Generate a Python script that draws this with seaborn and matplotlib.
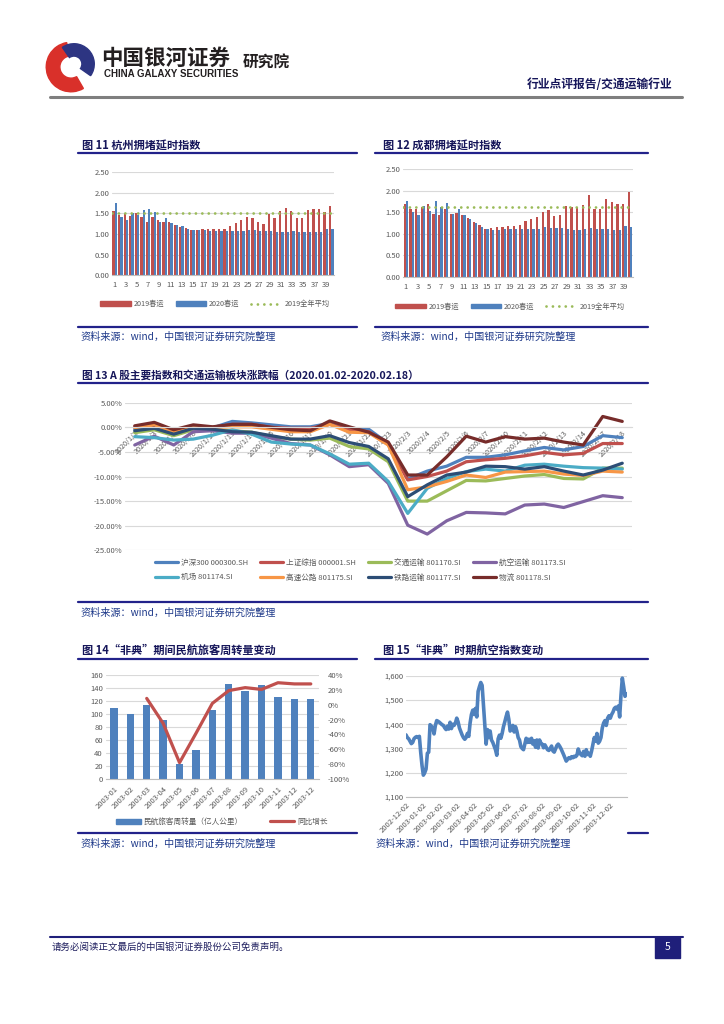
import numpy as np
import pandas as pd
import matplotlib
matplotlib.use('Agg')
import matplotlib.pyplot as plt
from matplotlib.lines import Line2D
from matplotlib.patches import Patch, Wedge, Rectangle
import seaborn as sns

sns.set_theme(style='white')
plt.rcParams['font.family'] = ['Noto Sans CJK SC', 'DejaVu Sans']
plt.rcParams['axes.unicode_minus'] = False

# ---------------- data ----------------
days = list(range(1, 41))
hz_2019 = [1.55, 1.46, 1.49, 1.44, 1.50, 1.41, 1.30, 1.41, 1.34, 1.29,
           1.29, 1.22, 1.18, 1.14, 1.10, 1.10, 1.13, 1.13, 1.12, 1.13,
           1.13, 1.19, 1.27, 1.34, 1.42, 1.40, 1.29, 1.25, 1.49, 1.40,
           1.57, 1.63, 1.56, 1.40, 1.40, 1.59, 1.62, 1.60, 1.53, 1.67]
hz_2020 = [1.76, 1.41, 1.34, 1.52, 1.46, 1.59, 1.61, 1.53, 1.29, 1.40,
           1.28, 1.22, 1.20, 1.13, 1.10, 1.10, 1.10, 1.08, 1.08, 1.07,
           1.08, 1.07, 1.08, 1.08, 1.10, 1.10, 1.08, 1.08, 1.08, 1.06,
           1.06, 1.06, 1.07, 1.06, 1.06, 1.06, 1.06, 1.05, 1.12, 1.12]
hz_avg = 1.50

cd_2019 = [1.70, 1.59, 1.58, 1.63, 1.70, 1.46, 1.44, 1.57, 1.46, 1.48,
           1.44, 1.36, 1.28, 1.21, 1.12, 1.13, 1.15, 1.17, 1.19, 1.19,
           1.21, 1.31, 1.35, 1.39, 1.52, 1.56, 1.41, 1.45, 1.64, 1.62,
           1.63, 1.66, 1.90, 1.59, 1.59, 1.80, 1.75, 1.70, 1.69, 1.98]
cd_2020 = [1.76, 1.52, 1.44, 1.65, 1.53, 1.77, 1.63, 1.71, 1.46, 1.58,
           1.43, 1.34, 1.26, 1.17, 1.11, 1.08, 1.09, 1.11, 1.11, 1.11,
           1.11, 1.11, 1.11, 1.12, 1.15, 1.13, 1.13, 1.13, 1.11, 1.10,
           1.09, 1.11, 1.13, 1.12, 1.12, 1.12, 1.10, 1.10, 1.18, 1.16]
cd_avg = 1.62

dates13 = ['2020/1/2', '2020/1/3', '2020/1/6', '2020/1/8', '2020/1/10', '2020/1/13',
           '2020/1/14', '2020/1/15', '2020/1/16', '2020/1/17', '2020/1/20', '2020/1/21',
           '2020/1/22', '2020/1/23', '2020/2/3', '2020/2/4', '2020/2/5', '2020/2/6',
           '2020/2/7', '2020/2/10', '2020/2/11', '2020/2/12', '2020/2/13', '2020/2/14',
           '2020/2/17', '2020/2/18']
names13 = ['沪深300 000300.SH', '上证综指 000001.SH', '交通运输 801170.SI', '航空运输 801173.SI',
           '机场 801174.SI', '高速公路 801175.SI', '铁路运输 801177.SI', '物流 801178.SI']
hs300 = [-0.4, -0.1, -1.2, -0.2, -0.1, 1.2, 0.9, 0.5, 0.1, 0.1, 0.8, -0.2, -0.4, -3.3,
         -10.5, -8.9, -7.9, -6.1, -6.1, -5.6, -4.8, -4.1, -4.6, -3.9, -1.7, -2.1]
szzz = [0.1, 0.3, -0.9, 0.0, 0.0, 0.6, 0.6, 0.0, -0.2, -0.2, 0.6, -0.5, -0.9, -3.5,
        -10.7, -10.0, -8.9, -7.0, -6.6, -6.3, -5.8, -5.1, -5.6, -5.3, -3.3, -3.3]
jtys = [-1.1, -0.5, -1.7, -0.5, -0.5, -0.7, -1.0, -1.9, -2.4, -2.6, -2.2, -3.9, -4.4, -7.0,
        -15.0, -15.0, -12.9, -10.8, -10.9, -10.4, -9.9, -9.6, -10.4, -10.5, -8.3, -8.3]
hkys = [-3.6, -1.8, -3.6, -0.9, -0.7, -1.2, -1.2, -2.2, -3.3, -3.6, -5.6, -8.0, -7.6, -11.4,
        -19.9, -21.7, -19.0, -17.3, -17.4, -17.6, -15.8, -15.6, -16.3, -15.1, -13.9, -14.3]
jc = [-1.9, -2.1, -2.6, -2.4, -1.6, -0.5, -1.4, -3.0, -3.4, -3.6, -5.4, -7.5, -7.3, -11.0,
      -17.5, -12.4, -10.4, -9.0, -8.5, -8.9, -7.7, -7.5, -7.9, -8.2, -8.3, -8.5]
gsgl = [-0.1, 0.5, -1.0, 0.0, 0.0, 0.1, 0.1, -0.4, -0.9, -0.9, 0.6, -1.0, -1.1, -3.6,
        -12.7, -12.1, -11.0, -9.7, -10.2, -9.1, -9.0, -8.9, -9.5, -9.8, -8.9, -9.1]
tlys = [-0.7, -0.2, -1.4, -0.2, -0.4, -0.9, -1.0, -1.7, -2.4, -2.4, -1.7, -3.1, -3.9, -6.4,
        -14.1, -11.7, -9.7, -9.1, -7.9, -8.0, -8.5, -8.0, -8.9, -9.7, -8.7, -7.3]
wl = [0.3, 1.0, -0.5, 0.5, 0.1, 0.6, 0.6, 0.0, -0.5, -0.7, 1.3, 0.1, -1.0, -3.0,
      -9.7, -9.7, -6.0, -1.8, -3.0, -1.9, -2.4, -2.2, -3.0, -3.6, 2.2, 1.2]

months14 = ['2003-01', '2003-02', '2003-03', '2003-04', '2003-05', '2003-06', '2003-07',
            '2003-08', '2003-09', '2003-10', '2003-11', '2003-12', '2003-12']
rpk = [110, 100, 114, 91, 23, 45, 106, 146, 135, 144, 126, 123, 123]
yoy = [np.nan, np.nan, 8.5, -25, -78, -38.6, 1.8, 19, 23, 20.6, 29.6, 28, 28]

air_idx = [1356, 1345, 1340, 1330, 1320, 1325, 1340, 1346, 1349, 1345, 1350, 1285,
           1230, 1190, 1200, 1215, 1280, 1285, 1398, 1392, 1385, 1360, 1395, 1415,
           1412, 1408, 1403, 1398, 1395, 1385, 1378, 1392, 1380, 1408, 1382, 1400,
           1395, 1405, 1425, 1410, 1385, 1370, 1356, 1345, 1338, 1345, 1362, 1350,
           1405, 1440, 1458, 1440, 1465, 1430, 1535, 1555, 1572, 1560, 1480, 1400,
           1318, 1378, 1345, 1372, 1335, 1325, 1310, 1295, 1272, 1340, 1355, 1342,
           1362, 1390, 1410, 1432, 1450, 1420, 1372, 1380, 1395, 1368, 1390, 1372,
           1345, 1335, 1308, 1300, 1295, 1318, 1342, 1325, 1338, 1325, 1342, 1318,
           1332, 1305, 1335, 1302, 1335, 1322, 1318, 1303, 1315, 1305, 1295, 1292,
           1300, 1310, 1290, 1285, 1298, 1312, 1318, 1310, 1300, 1288, 1275, 1262,
           1248, 1255, 1262, 1258, 1266, 1262, 1268, 1266, 1272, 1298, 1282, 1275,
           1270, 1288, 1268, 1295, 1275, 1280, 1268, 1290, 1318, 1345, 1330, 1362,
           1322, 1330, 1345, 1385, 1405, 1415, 1395, 1425, 1435, 1425, 1440, 1450,
           1465, 1470, 1462, 1475, 1430, 1520, 1590, 1555, 1515, 1525]
months15 = ['2002-12-02', '2003-01-02', '2003-02-02', '2003-03-02', '2003-04-02',
            '2003-05-02', '2003-06-02', '2003-07-02', '2003-08-02', '2003-09-02',
            '2003-10-02', '2003-11-02', '2003-12-02']

# ---------------- styling ----------------
RED, BLUE, GREEN = '#C0504D', '#4F81BD', '#9BBB59'
PAL13 = ['#4F81BD', '#C0504D', '#9BBB59', '#8064A2', '#4BACC6', '#F79646', '#2C4D75', '#772C2A']
TXT = '#595959'
GRID = '#D9D9D9'
TITLE_C = '#16165A'
LINE_C = '#22228A'
SRC_C = '#1F3A8A'

W, H = 724, 1024
fig = plt.figure(figsize=(W / 100, H / 100), dpi=100)
fig.patch.set_facecolor('white')


def add_ax(x0, y0, x1, y1):
    return fig.add_axes([x0 / W, 1 - y1 / H, (x1 - x0) / W, (y1 - y0) / H])


def hline(x0, x1, y, color=LINE_C, lw=1.6):
    fig.add_artist(Line2D([x0 / W, x1 / W], [1 - y / H, 1 - y / H], color=color, lw=lw))


def ftext(x, y, s, **kw):
    fig.text(x / W, 1 - y / H, s, **kw)


def style_ax(ax):
    for s in ['top', 'right', 'left']:
        ax.spines[s].set_visible(False)
    ax.spines['bottom'].set_color('#BFBFBF')
    ax.spines['bottom'].set_linewidth(0.8)
    ax.set_facecolor('none')
    ax.grid(axis='y', color=GRID, lw=0.8)
    ax.set_axisbelow(True)
    ax.tick_params(length=0, labelsize=5.5, colors=TXT, pad=2)
    ax.set_xlabel('')
    ax.set_ylabel('')


SRC = '资料来源：wind，中国银河证券研究院整理'

# ---------------- header ----------------
lax = add_ax(44, 41, 98, 93)
lax.set_xlim(-1.05, 1.05)
lax.set_ylim(-1.05, 1.05)
lax.set_aspect('equal')
lax.axis('off')
lax.add_patch(Wedge((0, 0), 1.0, 100, 300, width=0.55, color='#D9302A'))
lax.add_patch(Wedge((0.12, 0.12), 0.82, -35, 125, width=0.5, color='#2D3582'))

ftext(101, 58, '中国银河证券', fontsize=15.5, fontweight='bold', color='#231F20', va='center')
ftext(104, 74, 'CHINA GALAXY SECURITIES', fontsize=7, fontweight='bold', color='#231F20',
      va='center', family=['Liberation Sans Narrow', 'Liberation Sans', 'DejaVu Sans'])
ftext(243, 63, '研究院', fontsize=11.3, fontweight='bold', color='#231F20', va='center')
ftext(672, 85, '行业点评报告/交通运输行业', fontsize=8.5, fontweight='bold', color=TITLE_C,
      va='center', ha='right')
hline(50, 682, 97, color='#7F7F7F', lw=2.2)

# ---------------- chart 11 / 12 ----------------
def congestion(ax, v2019, v2020, avg):
    df = pd.DataFrame({'day': days * 2, 'val': v2019 + v2020,
                       'series': ['2019春运'] * 40 + ['2020春运'] * 40})
    sns.barplot(data=df, x='day', y='val', hue='series', palette=[RED, BLUE],
                saturation=1, width=0.82, ax=ax, legend=False, linewidth=0, edgecolor='none')
    ax.axhline(avg, color=GREEN, lw=2.0, ls=(0, (0.01, 2.3)), dash_capstyle='round', zorder=5)
    ax.set_ylim(0, 2.5)
    ax.set_xlim(-0.5, 39.5)
    ax.set_yticks(np.arange(0, 2.51, 0.5))
    ax.set_yticklabels(['%.2f' % v for v in np.arange(0, 2.51, 0.5)])
    ax.set_xticks(range(0, 40, 2))
    ax.set_xticklabels([str(d) for d in days[::2]])
    style_ax(ax)
    ax.tick_params(axis='x', pad=4)


ax11 = add_ax(112, 172.3, 334, 275.3)
congestion(ax11, hz_2019, hz_2020, hz_avg)
ax12 = add_ax(403, 169.3, 633, 277)
congestion(ax12, cd_2019, cd_2020, cd_avg)

leg_handles = [Patch(color=RED), Patch(color=BLUE),
               Line2D([], [], color=GREEN, lw=2.0, ls=(0, (0.01, 2.3)), dash_capstyle='round')]
leg_labels = ['2019春运', '2020春运', '2019全年平均']
for cx, cy in [(215, 304), (510, 306.5)]:
    fig.legend(leg_handles, leg_labels, ncol=3, loc='center', bbox_to_anchor=(cx / W, 1 - cy / H),
               frameon=False, fontsize=5.2, labelcolor=TXT, handlelength=4.2, handleheight=0.6,
               columnspacing=1.6, handletextpad=0.4)

ftext(82, 145, '图 11 杭州拥堵延时指数', fontsize=8, fontweight='bold', color=TITLE_C, va='center')
ftext(383, 145, '图 12 成都拥堵延时指数', fontsize=8, fontweight='bold', color=TITLE_C, va='center')
hline(78, 357, 153)
hline(375, 648, 153)
hline(78, 357, 327)
hline(375, 648, 327)
ftext(80, 337, SRC, fontsize=7.3, color=SRC_C, va='center', style='italic')
ftext(380, 337, SRC, fontsize=7.3, color=SRC_C, va='center', style='italic')

# ---------------- chart 13 ----------------
series13 = [hs300, szzz, jtys, hkys, jc, gsgl, tlys, wl]
df13 = pd.DataFrame({
    'idx': list(range(len(dates13))) * len(names13),
    'val': sum(series13, []),
    'name': [n for n in names13 for _ in dates13],
})
ax13 = add_ax(125, 402.7, 632, 550.3)
sns.lineplot(data=df13, x='idx', y='val', hue='name', hue_order=names13, palette=PAL13,
             lw=2.3, ax=ax13, legend=False, sort=False)
ax13.set_xlim(-0.5, 25.5)
ax13.set_ylim(-25, 5)
ax13.set_yticks(range(-25, 6, 5))
ax13.set_yticklabels(['%.2f%%' % v for v in range(-25, 6, 5)])
style_ax(ax13)
ax13.spines['bottom'].set_position(('data', 0))
ax13.spines['bottom'].set_color(GRID)
ax13.set_xticks(range(len(dates13)))
ax13.set_xticklabels(dates13, rotation=45, ha='right', rotation_mode='anchor', fontsize=5.2)
ax13.tick_params(axis='x', pad=1)

h13 = [Line2D([], [], color=c, lw=2.3) for c in PAL13]
order = [0, 4, 1, 5, 2, 6, 3, 7]
fig.legend([h13[i] for i in order], [names13[i] for i in order], ncol=4, loc='center',
           bbox_to_anchor=(360 / W, 1 - 570 / H), frameon=False, fontsize=5.5, labelcolor=TXT,
           handlelength=3.0, handletextpad=0.4, columnspacing=1.6, labelspacing=0.9)

ftext(82, 375, '图 13 A 股主要指数和交通运输板块涨跌幅（2020.01.02-2020.02.18）', fontsize=7.7,
      fontweight='bold', color=TITLE_C, va='center')
hline(78, 648, 383)
hline(78, 648, 602)
ftext(80, 613, SRC, fontsize=7.3, color=SRC_C, va='center', style='italic')

# ---------------- chart 14 ----------------
ax14 = add_ax(105.7, 675, 319, 779)
df14 = pd.DataFrame({'pos': range(len(months14)), 'rpk': rpk, 'yoy': yoy})
sns.barplot(data=df14, x='pos', y='rpk', color=BLUE, saturation=1, width=0.45, ax=ax14,
            linewidth=0, edgecolor='none')
ax14.set_ylim(0, 160)
ax14.set_yticks(range(0, 161, 20))
style_ax(ax14)
ax14.set_xticks(range(len(months14)))
ax14.set_xticklabels(months14, rotation=45, ha='right', rotation_mode='anchor')
ax14.tick_params(axis='x', pad=4)
ax14b = ax14.twinx()
sns.lineplot(data=df14, x='pos', y='yoy', color=RED, lw=2.3, ax=ax14b)
ax14b.set_ylim(-100, 40)
ax14b.set_yticks(range(-100, 41, 20))
ax14b.set_yticklabels(['%d%%' % v for v in range(-100, 41, 20)])
for s in ax14b.spines.values():
    s.set_visible(False)
ax14b.tick_params(length=0, labelsize=5.5, colors=TXT, pad=6)
ax14b.set_ylabel('')
ax14.set_xlim(-0.5, 12.5)

fig.legend([Patch(color=BLUE), Line2D([], [], color=RED, lw=2.3)],
           ['民航旅客周转量（亿人公里）', '同比增长'], ncol=2, loc='center',
           bbox_to_anchor=(222 / W, 1 - 822 / H), frameon=False, fontsize=5.5, labelcolor=TXT,
           handlelength=3.2, handleheight=0.6, columnspacing=3.5, handletextpad=0.4)

ftext(82, 650, '图 14“非典”期间民航旅客周转量变动', fontsize=8, fontweight='bold',
      color=TITLE_C, va='center')
hline(78, 357, 659)
hline(78, 357, 833)
ftext(80, 844, SRC, fontsize=7.3, color=SRC_C, va='center', style='italic')

# ---------------- chart 15 ----------------
ax15 = add_ax(406, 675.7, 627, 797)
sns.lineplot(x=range(len(air_idx)), y=air_idx, color=BLUE, lw=2.6, ax=ax15)
ax15.set_ylim(1100, 1600)
ax15.set_yticks(range(1100, 1601, 100))
ax15.set_yticklabels(['{:,}'.format(v) for v in range(1100, 1601, 100)])
ax15.set_xlim(0, len(air_idx) - 0.5)
per_month = len(air_idx) / 13.0
ax15.set_xticks([i * per_month for i in range(len(months15))])
ax15.set_xticklabels(months15, rotation=45, ha='right', rotation_mode='anchor')
style_ax(ax15)
ax15.tick_params(axis='x', pad=3)

ftext(383, 650, '图 15“非典”时期航空指数变动', fontsize=8, fontweight='bold',
      color=TITLE_C, va='center')
hline(375, 648, 659)
hline(628, 648, 833)
ftext(375, 844, SRC, fontsize=7.3, color=SRC_C, va='center', style='italic')

# ---------------- footer ----------------
hline(50, 683, 937, color='#1F1F7A', lw=1.5)
ftext(52, 947, '请务必阅读正文最后的中国银河证券股份公司免责声明。', fontsize=6.8,
      color='#1F1F5F', va='center')
fig.add_artist(Rectangle((655 / W, 1 - 958 / H), 25 / W, 21 / H, color='#1F1F7A',
                         transform=fig.transFigure))
ftext(667.5, 947.5, '5', fontsize=7.5, color='white', va='center', ha='center')

fig.savefig('out.png', dpi=100)
